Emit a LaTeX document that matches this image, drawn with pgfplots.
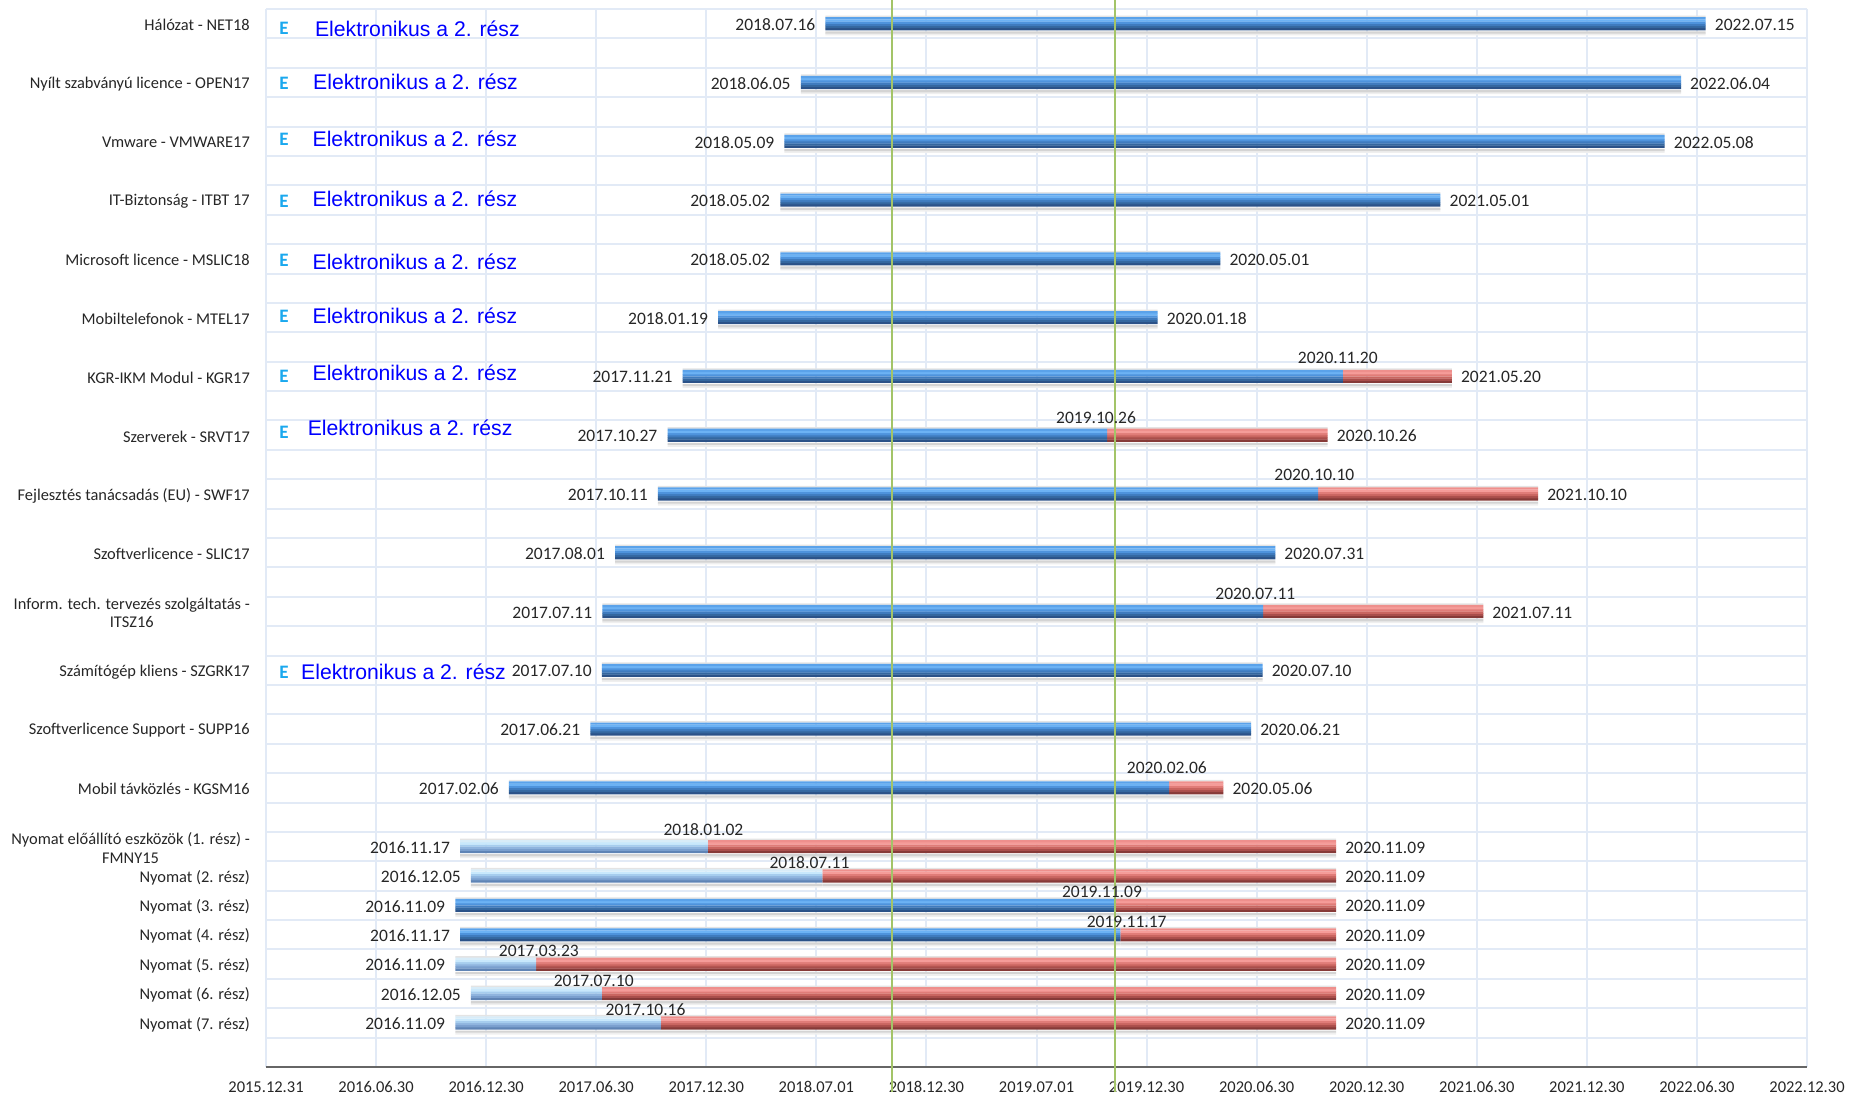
\documentclass[border=0pt]{standalone}
\usepackage{fontspec}
\setmainfont{Carlito}
\newfontfamily\arialf{Liberation Sans}
\usepackage{pgfplots}
\usepackage{pgfplotstable}
\pgfplotsset{compat=1.18}
\definecolor{gridc}{HTML}{E2EAF6}
\definecolor{greenl}{HTML}{A3C468}
\definecolor{txt}{HTML}{262626}
% row position, start day, widths of dark blue, light blue and red parts (days since 2015.12.31)
\pgfplotstableread{
y start dark light red
0.5 928 1460 0 0
2.5 887 1460 0 0
4.5 860 1460 0 0
6.5 853 1095 0 0
8.5 853 730 0 0
10.5 750 729 0 0
12.5 691 1095 0 181
14.5 666 729 0 366
16.5 650 1095 0 365
18.5 579 1095 0 0
20.5 558 1096 0 365
22.5 557 1096 0 0
24.5 538 1096 0 0
26.5 403 1095 0 90
28.5 322 0 411 1042
29.5 340 0 583 852
30.5 314 1095 0 366
31.5 322 1095 0 358
32.5 314 0 134 1327
33.5 340 0 217 1218
34.5 314 0 341 1120
}\bars
\pgfplotsset{common/.style={
  scale only axis, width=1541pt, height=1058pt,
  at={(266pt,28pt)}, anchor=south west,
  xmin=0, xmax=2556, ymin=0, ymax=36, y dir=reverse},
  lab/.style={only marks, mark=none, point meta=explicit symbolic, nodes near coords}}
% one horizontal band of all bars: shift (positive = upwards), height, dark blue, light blue, red
\newcommand{\band}[5]{%
\definecolor{cdark}{HTML}{#3}\definecolor{clight}{HTML}{#4}\definecolor{cred}{HTML}{#5}%
\begin{axis}[common, hide axis, xbar stacked, bar width=#2pt]
\addplot[draw=none, fill=none, bar shift=#1pt] table[x=start,y=y]{\bars};
\addplot[draw=none, fill=cdark, bar shift=#1pt] table[x=dark,y=y]{\bars};
\addplot[draw=none, fill=clight, bar shift=#1pt] table[x=light,y=y]{\bars};
\addplot[draw=none, fill=cred, bar shift=#1pt] table[x=red,y=y]{\bars};
\end{axis}}
\begin{document}
\begin{tikzpicture}[x=1pt,y=1pt]
\path[use as bounding box] (0,0) rectangle (1849,1095);
\begin{axis}[common,
  axis line style={draw=none},
  xtick={0,182.571,365.143,547.714,730.286,912.857,1095.429,1278,1460.571,1643.143,1825.714,2008.286,2190.857,2373.429,2556},
  xticklabels={2015.12.31,2016.06.30,2016.12.30,2017.06.30,2017.12.30,2018.07.01,2018.12.30,2019.07.01,2019.12.30,2020.06.30,2020.12.30,2021.06.30,2021.12.30,2022.06.30,2022.12.30},
  ytick={0.5,2.5,4.5,6.5,8.5,10.5,12.5,14.5,16.5,18.5,20.5,22.5,24.5,26.5,28.5,29.5,30.5,31.5,32.5,33.5,34.5},
  yticklabels={Hálózat - NET18,Nyílt szabványú licence - OPEN17,Vmware - VMWARE17,IT-Biztonság - ITBT 17,Microsoft licence - MSLIC18,Mobiltelefonok - MTEL17,KGR-IKM Modul - KGR17,Szerverek - SRVT17,Fejlesztés tanácsadás (EU) - SWF17,Szoftverlicence - SLIC17,{Inform. tech. tervezés szolgáltatás -\\ITSZ16},Számítógép kliens - SZGRK17,Szoftverlicence Support - SUPP16,Mobil távközlés - KGSM16,{Nyomat előállító eszközök (1. rész) -\\FMNY15},Nyomat (2. rész),Nyomat (3. rész),Nyomat (4. rész),Nyomat (5. rész),Nyomat (6. rész),Nyomat (7. rész)},
  minor ytick={0,1,...,36},
  major tick length=0pt, minor tick length=0pt,
  xmajorgrids=true, yminorgrids=true, ymajorgrids=false,
  grid style={gridc, line width=2pt},
  minor grid style={gridc, line width=2pt},
  y tick label style={font=\fontsize{16.4}{18.5}\selectfont, text=txt, align=center, inner sep=0pt, anchor=east, xshift=-16pt, yshift=-1.5pt},
  x tick label style={font=\fontsize{16.5}{18}\selectfont, text=txt, inner sep=0pt, anchor=center, yshift=-20pt},
]
\draw[gray!80!black, line width=1.6pt] (axis cs:0,36) -- (axis cs:2556,36);
\end{axis}
% soft shadow and glossy bands, from the bottom of each bar to its top
\band{-10.5}{2.2}{EFEFEF}{EFEFEF}{EFEFEF}
\band{-8.7}{2.2}{D4D4D4}{D4D4D4}{D4D4D4}
\band{7.2}{1.6}{E4E4E4}{E4E4E4}{E4E4E4}
\band{-5.4}{2.4}{2B5288}{5F84B5}{863A38}
\band{-3.2}{2.4}{34679F}{7A9FCE}{A94E4B}
\band{-1.1}{2.4}{3F7BBE}{8FB4DE}{C96560}
\band{1.1}{2.4}{4E93DC}{A6CDEE}{E07C78}
\band{3.2}{2.4}{6CB2F4}{C8E8FC}{F59C99}
\band{5.4}{2.2}{5AA2EA}{D8ECF8}{EE8F8C}
\begin{axis}[common, hide axis, clip=false]
\addplot[greenl, line width=2pt] coordinates {(1037.5,-0.31) (1037.5,36.85)};
\addplot[greenl, line width=2pt] coordinates {(1409,-0.31) (1409,36.85)};
% start dates
\addplot[lab, nodes near coords style={anchor=east, inner sep=0pt, xshift=-10pt, yshift=-1pt, text=txt, font=\fontsize{17.5}{18}\selectfont}] table[meta=l] {
x y l
928 0.5 2018.07.16
887 2.5 2018.06.05
860 4.5 2018.05.09
853 6.5 2018.05.02
853 8.5 2018.05.02
750 10.5 2018.01.19
691 12.5 2017.11.21
666 14.5 2017.10.27
650 16.5 2017.10.11
579 18.5 2017.08.01
558 20.5 2017.07.11
557 22.5 2017.07.10
538 24.5 2017.06.21
403 26.5 2017.02.06
322 28.5 2016.11.17
340 29.5 2016.12.05
314 30.5 2016.11.09
322 31.5 2016.11.17
314 32.5 2016.11.09
340 33.5 2016.12.05
314 34.5 2016.11.09
};
% end dates
\addplot[lab, nodes near coords style={anchor=west, inner sep=0pt, xshift=9pt, yshift=-1pt, text=txt, font=\fontsize{17.5}{18}\selectfont}] table[meta=l] {
x y l
2388 0.5 2022.07.15
2347 2.5 2022.06.04
2320 4.5 2022.05.08
1948 6.5 2021.05.01
1583 8.5 2020.05.01
1479 10.5 2020.01.18
1967 12.5 2021.05.20
1761 14.5 2020.10.26
2110 16.5 2021.10.10
1674 18.5 2020.07.31
2019 20.5 2021.07.11
1653 22.5 2020.07.10
1634 24.5 2020.06.21
1588 26.5 2020.05.06
1775 28.5 2020.11.09
1775 29.5 2020.11.09
1775 30.5 2020.11.09
1775 31.5 2020.11.09
1775 32.5 2020.11.09
1775 33.5 2020.11.09
1775 34.5 2020.11.09
};
% change-over dates, at the places where the labels stand
\addplot[lab, nodes near coords style={anchor=center, inner sep=0pt, yshift=18pt, text=txt, font=\fontsize{17.5}{18}\selectfont}] table[meta=l] {
x y l
1777.8 12.5 2020.11.20
1376.8 14.53 2019.10.26
1738.9 16.47 2020.10.10
1641 20.53 2020.07.11
1494.2 26.42 2020.02.06
725.5 28.53 2018.01.02
901.5 29.67 2018.07.11
1386.6 30.67 2019.11.09
1427.6 31.67 2019.11.17
452.6 32.67 2017.03.23
543.6 33.67 2017.07.10
629.6 34.67 2017.10.16
};
\addplot[only marks, mark=none, nodes near coords={\textbf{E}}, nodes near coords style={anchor=center, inner sep=0pt, text={rgb,255:red,26;green,168;blue,238}, font=\fontsize{19}{20}\selectfont}] table {
x y
30 0.66
30 2.54
30 4.43
30 6.55
30 8.56
30 10.45
30 12.49
30 14.42
30 22.56
};
\addplot[only marks, mark=none, nodes near coords={Elektronikus a 2. rész}, nodes near coords style={anchor=west, inner sep=0pt, text=blue, font=\arialf\fontsize{21.2}{22}\selectfont}] table {
x y
81 0.66
78 2.46
77 4.43
77 6.47
77 8.6
77 10.45
77 12.37
69 14.26
58 22.56
};
\end{axis}
\end{tikzpicture}
\end{document}
